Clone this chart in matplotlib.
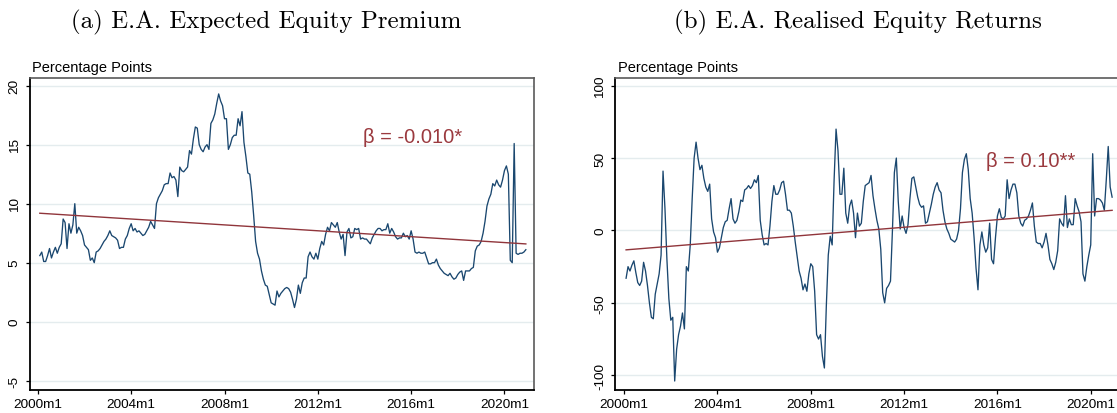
import numpy as np
import matplotlib
matplotlib.use("Agg")
import matplotlib.pyplot as plt

# ---------------- data ----------------
start_month = "2000m2"          # first observation (both panels), monthly to 2020m12
xtick_labels = ["2000m1", "2004m1", "2008m1", "2012m1", "2016m1", "2020m1"]
yticks_a = [-5, 0, 5, 10, 15, 20]
yticks_b = [-100, -50, 0, 50, 100]

# (a) E.A. Expected Equity Premium, percentage points
premium = [
    5.6, 5.9, 5.1, 5.1, 5.6, 6.2, 5.4, 5.9, 6.3, 5.8, 6.3, 6.6,
    8.7, 8.4, 6.2, 8.3, 7.5, 8.2, 10.0, 7.5, 8.0, 7.7, 7.3, 6.5,
    6.3, 6.1, 5.2, 5.4, 5.0, 5.9, 6.0, 6.2, 6.5, 6.8, 7.0, 7.3,
    7.7, 7.3, 7.2, 7.1, 6.9, 6.2, 6.3, 6.3, 7.0, 7.3, 7.9, 8.3,
    7.7, 7.9, 7.6, 7.7, 7.5, 7.3, 7.4, 7.7, 8.0, 8.5, 8.2, 7.9,
    10.0, 10.5, 10.8, 11.1, 11.6, 11.7, 11.7, 12.6, 12.2, 12.3, 12.0, 10.6,
    13.1, 12.8, 12.7, 12.9, 13.1, 14.5, 14.2, 15.5, 16.5, 16.4, 15.0, 14.6,
    14.4, 14.8, 15.0, 14.6, 16.8, 17.1, 17.6, 18.5, 19.3, 18.7, 18.3, 17.2,
    17.2, 14.6, 15.0, 15.6, 15.8, 15.8, 17.2, 16.6, 17.8, 15.2, 14.0, 12.6,
    12.5, 11.0, 9.0, 6.8, 5.8, 5.3, 4.3, 3.6, 3.1, 3.0, 2.3, 1.6,
    1.5, 1.4, 2.6, 2.1, 2.4, 2.6, 2.8, 2.9, 2.8, 2.5, 1.9, 1.2,
    1.9, 3.1, 2.4, 3.3, 3.7, 3.7, 5.5, 5.9, 5.5, 5.3, 5.8, 5.3,
    6.2, 6.8, 6.5, 7.4, 8.0, 7.7, 8.4, 8.2, 8.0, 8.4, 7.6, 7.0,
    7.4, 5.6, 7.6, 7.9, 7.1, 7.2, 7.9, 7.8, 7.9, 7.0, 7.1, 7.0,
    7.0, 6.8, 6.6, 7.1, 7.4, 7.7, 7.9, 7.9, 7.7, 7.8, 7.8, 8.3,
    7.5, 7.9, 7.6, 7.2, 7.0, 7.1, 7.1, 7.5, 7.2, 7.3, 7.0, 7.7,
    7.0, 5.9, 5.8, 5.9, 5.8, 5.8, 5.9, 5.4, 4.9, 4.9, 5.0, 5.0,
    5.3, 4.8, 4.5, 4.3, 4.1, 4.0, 3.9, 4.1, 3.8, 3.6, 3.7, 4.0,
    4.2, 4.3, 3.5, 4.3, 4.3, 4.3, 4.5, 4.6, 6.0, 6.4, 6.5, 6.8,
    7.5, 8.5, 9.8, 10.4, 10.8, 11.7, 11.5, 12.0, 11.6, 11.4, 12.0, 12.8,
    13.2, 12.5, 5.2, 5.0, 15.1, 5.8, 5.7, 5.8, 5.8, 5.9, 6.1,
]
premium_trend = [9.19, 6.59]     # fitted line at first / last observation
premium_beta = "β = -0.010*"

# (b) E.A. Realised Equity Returns, percentage points
returns = [
    -33, -25, -28, -24, -21, -29, -36, -38, -35, -22, -28, -38,
    -50, -60, -61, -44, -37, -30, -17, 41, 15, -20, -47, -62,
    -60, -104, -82, -72, -66, -57, -68, -25, -28, -10, 22, 50,
    61, 50, 42, 45, 36, 30, 27, 32, 8, -1, -5, -15,
    -12, -5, 2, 6, 7, 15, 22, 8, 5, 7, 13, 21,
    20, 28, 29, 31, 29, 31, 35, 33, 38, 7, -3, -10,
    -9, -10, 3, 20, 31, 25, 25, 28, 33, 34, 25, 14,
    14, 12, 3, -8, -18, -28, -33, -41, -37, -42, -30, -23,
    -25, -42, -72, -75, -72, -87, -95, -52, -17, -4, -10, 35,
    70, 55, 25, 25, 43, 12, 5, 17, 21, 12, -5, 12,
    3, 5, 20, 31, 32, 33, 38, 24, 15, 7, 1, -13,
    -43, -50, -40, -38, -35, 0, 40, 50, 20, 1, 10, 2,
    -2, 4, 22, 36, 37, 30, 23, 18, 16, 17, 5, 6,
    12, 18, 25, 30, 33, 28, 26, 14, 6, 1, -2, -6,
    -7, -8, -6, 0, 15, 40, 49, 53, 42, 22, 12, -5,
    -26, -41, -10, -1, -10, -15, -12, 5, -20, -23, -5, 10,
    15, 9, 8, 10, 35, 22, 28, 32, 32, 26, 10, 5,
    3, 7, 8, 10, 14, 19, 3, -8, -9, -9, -12, -8,
    -2, -10, -20, -23, -27, -22, -14, 8, 5, 3, 24, 2,
    8, 4, 4, 22, 17, 13, 6, -30, -35, -25, -17, -10,
    53, 10, 22, 22, 21, 19, 14, 35, 58, 30, 23,
]
returns_trend = [-13.4, 13.9]
returns_beta = "β = 0.10**"

titles = ["(a) E.A. Expected Equity Premium", "(b) E.A. Realised Equity Returns"]
ylabel_text = "Percentage Points"

# ---------------- helpers ----------------
def month_index(label):
    y, m = label.split("m")
    return (int(y) - 2000) * 12 + int(m) - 1

BLUE = "#1a476f"
RED = "#90353b"
GRID = "#e4ecee"

plt.rcParams["font.family"] = ["Liberation Sans", "DejaVu Sans"]

W, H = 1117, 414
fig = plt.figure(figsize=(W / 100, H / 100), dpi=100)
fig.patch.set_facecolor("white")

def px_axes(left, right, top, bottom):
    return fig.add_axes([left / W, (H - bottom) / H, (right - left) / W, (bottom - top) / H])

ax_a = px_axes(29.7, 534.2, 79, 391)
ax_b = px_axes(615.2, 1119.7, 79, 391)

panels = [
    (ax_a, premium, premium_trend, premium_beta, yticks_a, (-5.79, 20.65), (-4.2, 255.3), (167.4, 15.2)),
    (ax_b, returns, returns_trend, returns_beta, yticks_b, (-110.2, 105.3), (-4.6, 254.9), (186.2, 44.5)),
]

m0 = month_index(start_month)
xt = [month_index(s) for s in xtick_labels]

for ax, vals, trend, beta, yt, ylim, xlim, bpos in panels:
    x = np.arange(m0, m0 + len(vals))
    ax.set_facecolor("white")
    ax.set_axisbelow(True)
    for v in yt:
        ax.axhline(v, color=GRID, lw=1.0, zorder=0)
    ax.plot(x, vals, color=BLUE, lw=0.95, zorder=3, solid_joinstyle="round")
    ax.plot([x[0], x[-1]], trend, color=RED, lw=1.0, zorder=4)
    ax.text(bpos[0], bpos[1], beta, color="#9b3a3f", fontsize=14.5, ha="left", va="baseline", zorder=5)
    ax.set_xlim(*xlim)
    ax.set_ylim(*ylim)
    ax.set_xticks(xt)
    ax.set_xticklabels(xtick_labels)
    ax.set_yticks(yt)
    ax.set_yticklabels([str(v) for v in yt], rotation=90, va="center")
    ax.tick_params(axis="both", direction="out", length=3, width=0.9, color="black",
                   labelsize=9.7, labelcolor="black")
    ax.tick_params(axis="x", pad=2.5)
    ax.tick_params(axis="y", pad=3.5)
    for s in ["left", "bottom"]:
        ax.spines[s].set_color("black")
        ax.spines[s].set_linewidth(1.3)
    for s in ["top", "right"]:
        ax.spines[s].set_color("#5a5a5a")
        ax.spines[s].set_linewidth(1.2)

fig.text(31.5 / W, 1 - 68 / H, ylabel_text, fontsize=10.5, ha="left", va="center")
fig.text(618.4 / W, 1 - 68 / H, ylabel_text, fontsize=10.5, ha="left", va="center")

fig.text(266 / W, 1 - 28 / H, titles[0], family="cmr10", fontsize=18, ha="center", va="baseline")
fig.text(858 / W, 1 - 28 / H, titles[1], family="cmr10", fontsize=18, ha="center", va="baseline")

fig.savefig("out.png", dpi=100, facecolor="white")
